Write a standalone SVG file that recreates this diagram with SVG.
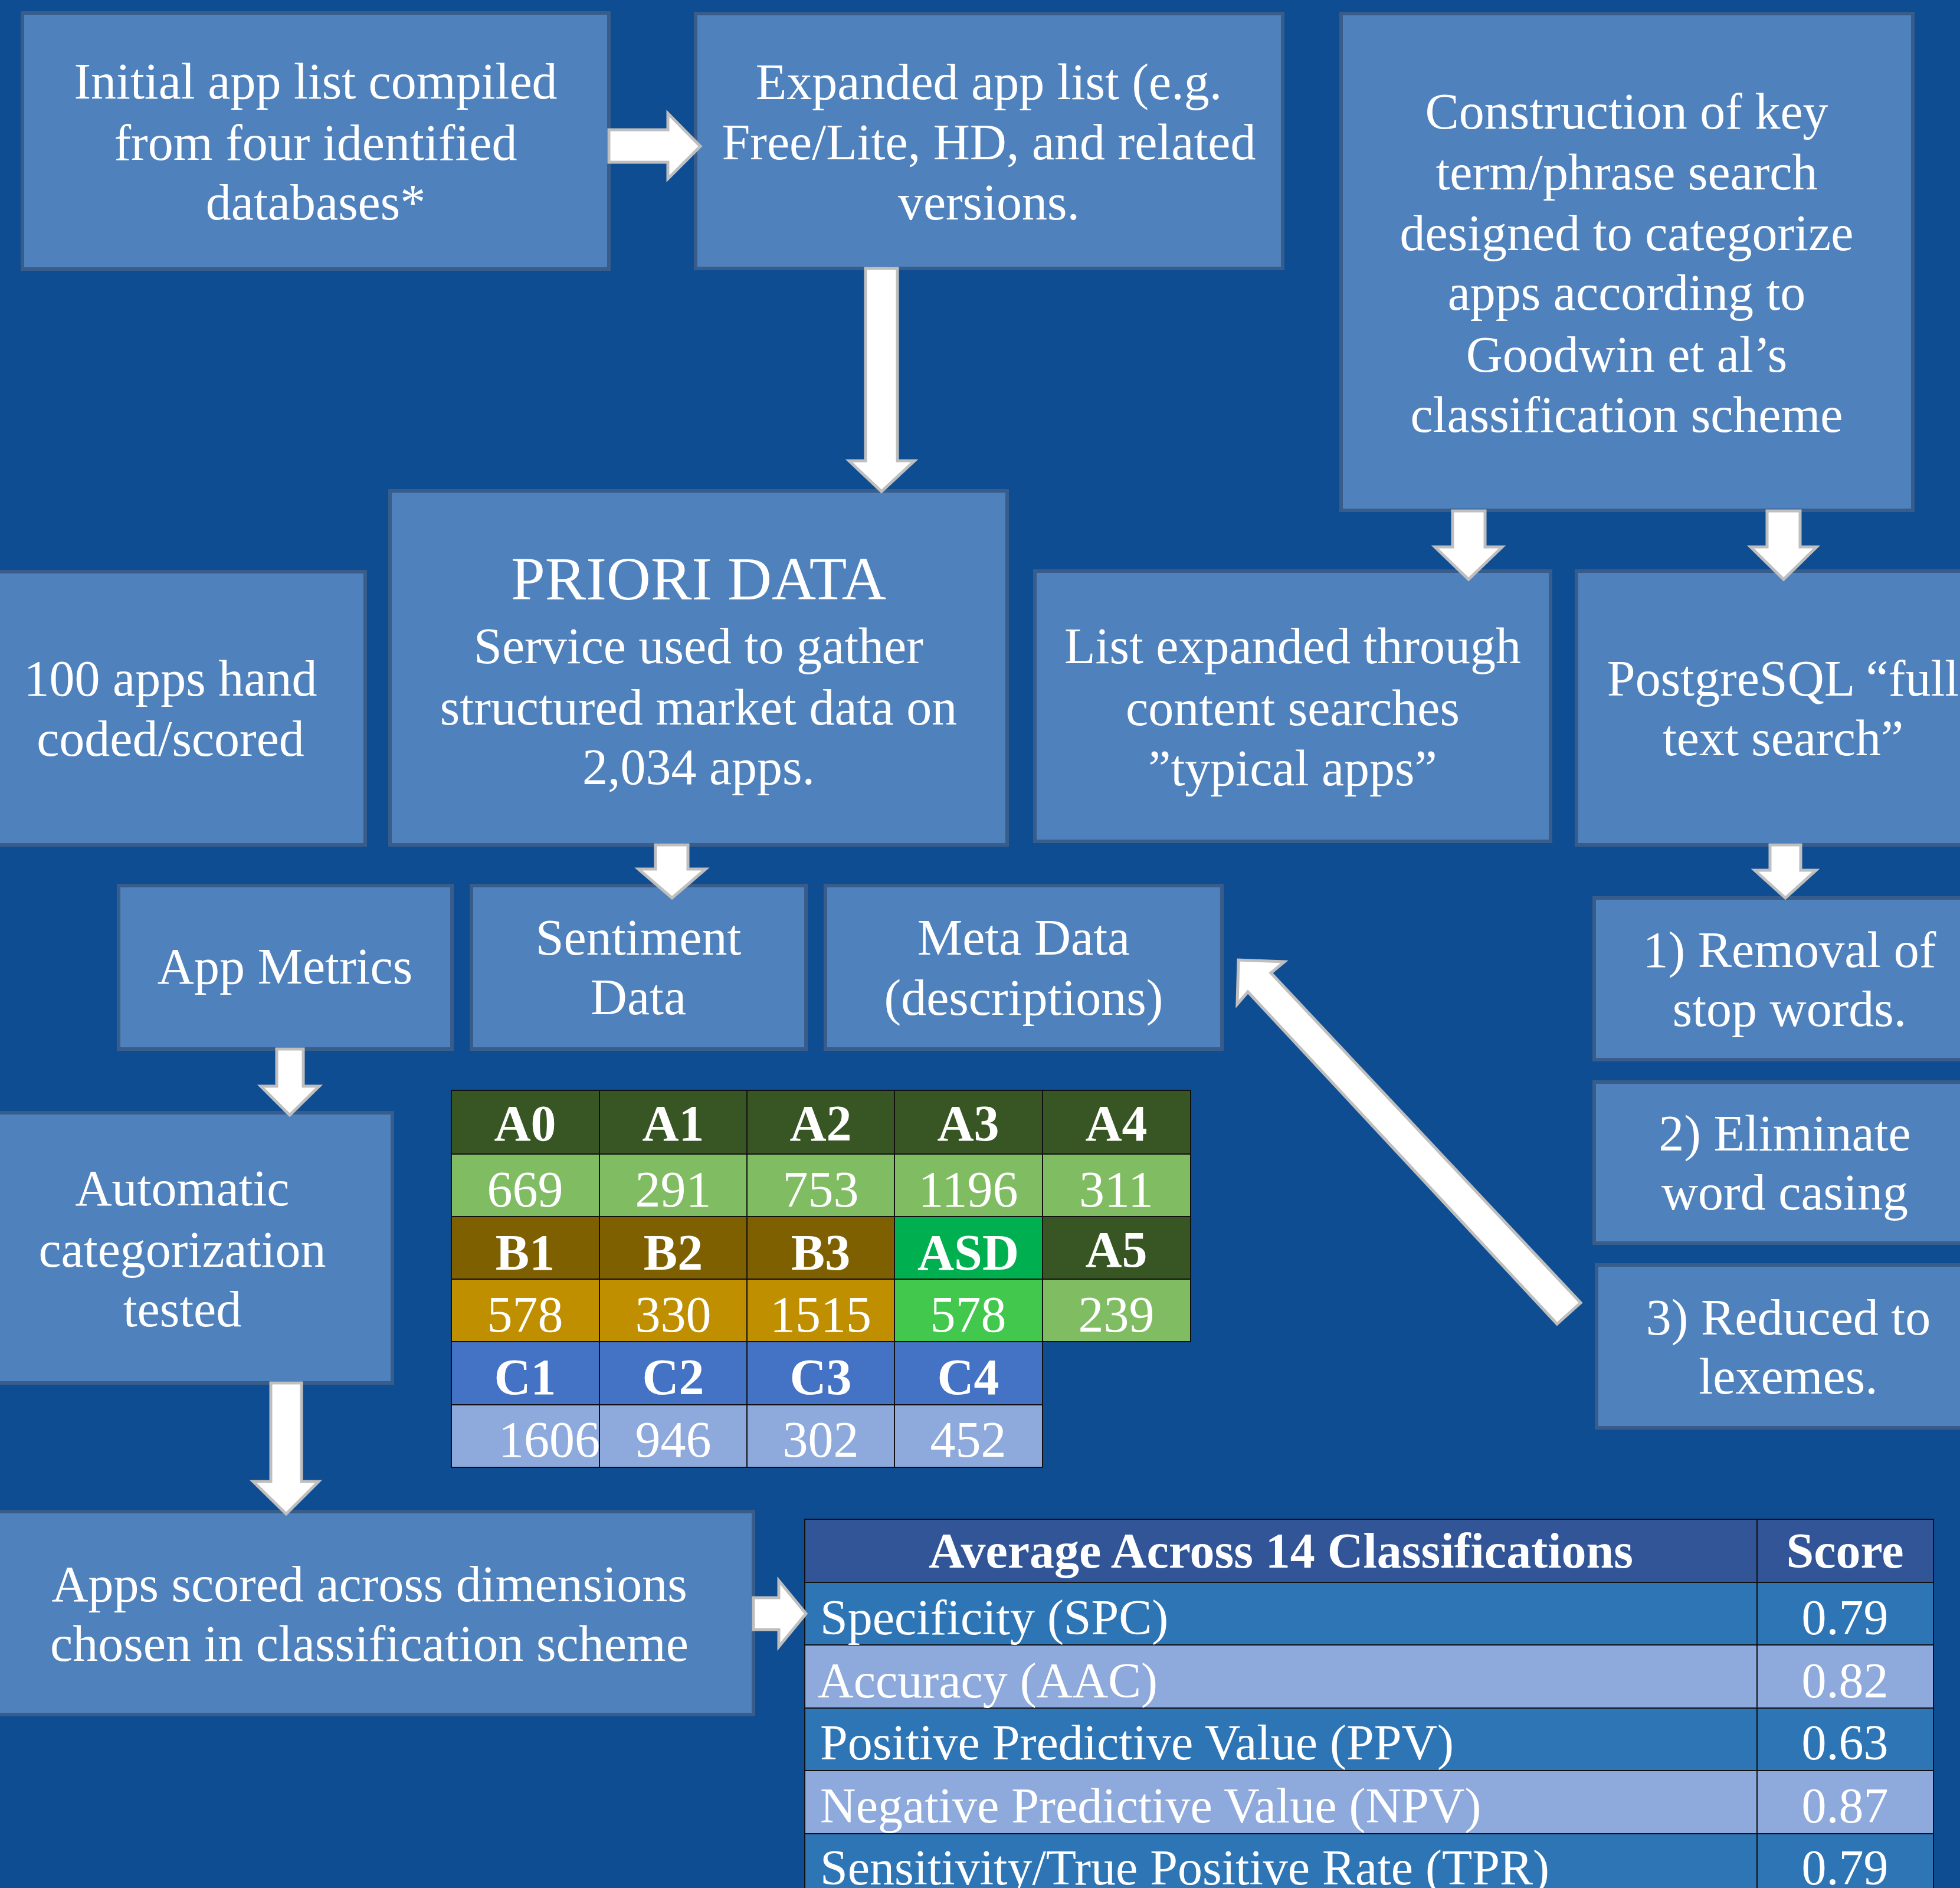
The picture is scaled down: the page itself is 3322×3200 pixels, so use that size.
<svg xmlns="http://www.w3.org/2000/svg" width="3322" height="3200" viewBox="0 0 3322 3200">
<style>
.box{fill:#4F81BD;stroke:#385D8A;stroke-width:6}
.t{font-family:"Liberation Serif","Times New Roman",serif;font-size:86px;fill:#FFFFFF;text-anchor:middle}
.tl{font-family:"Liberation Serif","Times New Roman",serif;font-size:84px;fill:#FFFFFF;text-anchor:start}
.tb{font-family:"Liberation Serif","Times New Roman",serif;font-size:86px;fill:#FFFFFF;text-anchor:middle;font-weight:bold}
.arrow{fill:#FFFFFF;stroke:#BFBFBF;stroke-width:5;stroke-linejoin:miter}
.cell{stroke:#111111;stroke-width:2}
</style>
<rect x="0" y="0" width="3322" height="3200" fill="#0F4D92"/>

<g id="node-initial">
<rect class="box" x="38" y="22" width="994" height="434"/>
<text class="t" x="535" y="167">Initial app list compiled</text>
<text class="t" x="535" y="271">from four identified</text>
<text class="t" x="535" y="372">databases*</text>
</g>

<g id="node-expanded">
<rect class="box" x="1179" y="23" width="995" height="432"/>
<text class="t" x="1676" y="168">Expanded app list (e.g.</text>
<text class="t" x="1676" y="270">Free/Lite, HD, and related</text>
<text class="t" x="1676" y="372">versions.</text>
</g>

<g id="node-construction">
<rect class="box" x="2273" y="23" width="969" height="842"/>
<text class="t" x="2757" y="218">Construction of key</text>
<text class="t" x="2757" y="321">term/phrase search</text>
<text class="t" x="2757" y="424">designed to categorize</text>
<text class="t" x="2757" y="525">apps according to</text>
<text class="t" x="2757" y="630">Goodwin et al’s</text>
<text class="t" x="2757" y="732">classification scheme</text>
</g>

<g id="node-handcoded">
<rect class="box" x="-40" y="969" width="659" height="463"/>
<text class="t" x="289" y="1179">100 apps hand</text>
<text class="t" x="289" y="1281">coded/scored</text>
</g>

<g id="node-priori">
<rect class="box" x="661" y="832" width="1046" height="600"/>
<text class="t" x="1184" y="1016" style="font-size:104px">PRIORI DATA</text>
<text class="t" x="1184" y="1124">Service used to gather</text>
<text class="t" x="1184" y="1228">structured market data on</text>
<text class="t" x="1184" y="1329">2,034 apps.</text>
</g>

<g id="node-listexpanded">
<rect class="box" x="1754" y="968" width="874" height="458"/>
<text class="t" x="2191" y="1124">List expanded through</text>
<text class="t" x="2191" y="1229">content searches</text>
<text class="t" x="2191" y="1331">”typical apps”</text>
</g>

<g id="node-postgres">
<rect class="box" x="2672" y="968" width="700" height="464"/>
<text class="t" x="3022" y="1179">PostgreSQL “full</text>
<text class="t" x="3022" y="1280">text search”</text>
</g>

<g id="node-appmetrics">
<rect class="box" x="201" y="1501" width="565" height="277"/>
<text class="t" x="483" y="1667">App Metrics</text>
</g>

<g id="node-sentiment">
<rect class="box" x="799" y="1501" width="567" height="277"/>
<text class="t" x="1082" y="1618">Sentiment</text>
<text class="t" x="1082" y="1719">Data</text>
</g>

<g id="node-meta">
<rect class="box" x="1399" y="1501" width="672" height="277"/>
<text class="t" x="1735" y="1618">Meta Data</text>
<text class="t" x="1735" y="1720">(descriptions)</text>
</g>

<g id="node-step1">
<rect class="box" x="2702" y="1522" width="660" height="274"/>
<text class="t" x="3033" y="1639">1) Removal of</text>
<text class="t" x="3033" y="1739">stop words.</text>
</g>

<g id="node-step2">
<rect class="box" x="2702" y="1834" width="660" height="273"/>
<text class="t" x="3025" y="1950">2) Eliminate</text>
<text class="t" x="3025" y="2050">word casing</text>
</g>

<g id="node-step3">
<rect class="box" x="2706" y="2144" width="660" height="276"/>
<text class="t" x="3031" y="2262">3) Reduced to</text>
<text class="t" x="3031" y="2362">lexemes.</text>
</g>

<g id="node-automatic">
<rect class="box" x="-47" y="1886" width="712" height="458"/>
<text class="t" x="309" y="2043">Automatic</text>
<text class="t" x="309" y="2147">categorization</text>
<text class="t" x="309" y="2248">tested</text>
</g>

<g id="node-scored">
<rect class="box" x="-25" y="2562" width="1302" height="344"/>
<text class="t" x="626" y="2714">Apps scored across dimensions</text>
<text class="t" x="626" y="2815">chosen in classification scheme</text>
</g>

<g id="category-table">
<rect class="cell" x="765" y="1848" width="251" height="108" fill="#375623"/>
<rect class="cell" x="1016" y="1848" width="250" height="108" fill="#375623"/>
<rect class="cell" x="1266" y="1848" width="250" height="108" fill="#375623"/>
<rect class="cell" x="1516" y="1848" width="251" height="108" fill="#375623"/>
<rect class="cell" x="1767" y="1848" width="251" height="108" fill="#375623"/>
<rect class="cell" x="765" y="1956" width="251" height="106" fill="#80BC62"/>
<rect class="cell" x="1016" y="1956" width="250" height="106" fill="#80BC62"/>
<rect class="cell" x="1266" y="1956" width="250" height="106" fill="#80BC62"/>
<rect class="cell" x="1516" y="1956" width="251" height="106" fill="#80BC62"/>
<rect class="cell" x="1767" y="1956" width="251" height="106" fill="#80BC62"/>
<rect class="cell" x="765" y="2062" width="251" height="106" fill="#7F6000"/>
<rect class="cell" x="1016" y="2062" width="250" height="106" fill="#7F6000"/>
<rect class="cell" x="1266" y="2062" width="250" height="106" fill="#7F6000"/>
<rect class="cell" x="1516" y="2062" width="251" height="106" fill="#00B050"/>
<rect class="cell" x="1767" y="2062" width="251" height="106" fill="#375623"/>
<rect class="cell" x="765" y="2168" width="251" height="106" fill="#BF8F00"/>
<rect class="cell" x="1016" y="2168" width="250" height="106" fill="#BF8F00"/>
<rect class="cell" x="1266" y="2168" width="250" height="106" fill="#BF8F00"/>
<rect class="cell" x="1516" y="2168" width="251" height="106" fill="#42C84C"/>
<rect class="cell" x="1767" y="2168" width="251" height="106" fill="#80BC62"/>
<rect class="cell" x="765" y="2274" width="251" height="107" fill="#4472C4"/>
<rect class="cell" x="1016" y="2274" width="250" height="107" fill="#4472C4"/>
<rect class="cell" x="1266" y="2274" width="250" height="107" fill="#4472C4"/>
<rect class="cell" x="1516" y="2274" width="251" height="107" fill="#4472C4"/>
<rect class="cell" x="765" y="2381" width="251" height="106" fill="#8EA9DB"/>
<rect class="cell" x="1016" y="2381" width="250" height="106" fill="#8EA9DB"/>
<rect class="cell" x="1266" y="2381" width="250" height="106" fill="#8EA9DB"/>
<rect class="cell" x="1516" y="2381" width="251" height="106" fill="#8EA9DB"/>
<text class="tb" x="890" y="1933">A0</text>
<text class="tb" x="1141" y="1933">A1</text>
<text class="tb" x="1391" y="1933">A2</text>
<text class="tb" x="1641" y="1933">A3</text>
<text class="tb" x="1892" y="1933">A4</text>
<text class="t" x="890" y="2045">669</text>
<text class="t" x="1141" y="2045">291</text>
<text class="t" x="1391" y="2045">753</text>
<text class="t" x="1641" y="2045">1196</text>
<text class="t" x="1892" y="2045">311</text>
<text class="tb" x="890" y="2152">B1</text>
<text class="tb" x="1141" y="2152">B2</text>
<text class="tb" x="1391" y="2152">B3</text>
<text class="tb" x="1641" y="2152">ASD</text>
<text class="tb" x="1892" y="2147">A5</text>
<text class="t" x="890" y="2257">578</text>
<text class="t" x="1141" y="2257">330</text>
<text class="t" x="1391" y="2257">1515</text>
<text class="t" x="1641" y="2257">578</text>
<text class="t" x="1892" y="2257">239</text>
<text class="tb" x="890" y="2363">C1</text>
<text class="tb" x="1141" y="2363">C2</text>
<text class="tb" x="1391" y="2363">C3</text>
<text class="tb" x="1641" y="2363">C4</text>
<text class="t" x="931" y="2469">1606</text>
<text class="t" x="1141" y="2469">946</text>
<text class="t" x="1391" y="2469">302</text>
<text class="t" x="1641" y="2469">452</text>
</g>

<g id="score-table">
<rect class="cell" x="1364" y="2575" width="1614" height="107" fill="#325597"/>
<rect class="cell" x="2978" y="2575" width="299" height="107" fill="#325597"/>
<rect class="cell" x="1364" y="2682" width="1614" height="106" fill="#2E75B6"/>
<rect class="cell" x="2978" y="2682" width="299" height="106" fill="#2E75B6"/>
<rect class="cell" x="1364" y="2788" width="1614" height="107" fill="#8EA9DB"/>
<rect class="cell" x="2978" y="2788" width="299" height="107" fill="#8EA9DB"/>
<rect class="cell" x="1364" y="2895" width="1614" height="106" fill="#2E75B6"/>
<rect class="cell" x="2978" y="2895" width="299" height="106" fill="#2E75B6"/>
<rect class="cell" x="1364" y="3001" width="1614" height="107" fill="#8EA9DB"/>
<rect class="cell" x="2978" y="3001" width="299" height="107" fill="#8EA9DB"/>
<rect class="cell" x="1364" y="3108" width="1614" height="106" fill="#2E75B6"/>
<rect class="cell" x="2978" y="3108" width="299" height="106" fill="#2E75B6"/>
<text class="tb" x="2171" y="2657" style="font-size:84px">Average Across 14 Classifications</text>
<text class="tb" x="3127" y="2657" style="font-size:84px">Score</text>
<text class="tl" x="1390" y="2770">Specificity (SPC)</text>
<text class="tl" x="1386" y="2877">Accuracy (AAC)</text>
<text class="tl" x="1390" y="2982">Positive Predictive Value (PPV)</text>
<text class="tl" x="1390" y="3089">Negative Predictive Value (NPV)</text>
<text class="tl" x="1390" y="3194">Sensitivity/True Positive Rate (TPR)</text>
<text class="t" x="3127" y="2770" style="font-size:84px">0.79</text>
<text class="t" x="3127" y="2877" style="font-size:84px">0.82</text>
<text class="t" x="3127" y="2982" style="font-size:84px">0.63</text>
<text class="t" x="3127" y="3089" style="font-size:84px">0.87</text>
<text class="t" x="3127" y="3194" style="font-size:84px">0.79</text>
</g>

<g id="connectors">
<polygon class="arrow" points="1032,220 1132,220 1132,192 1187,248 1132,303 1132,275 1032,275"/>
<polygon class="arrow" points="1467,455 1521,455 1521,781 1550,781 1494,833 1439,781 1467,781"/>
<polygon class="arrow" points="1111,1432 1166,1432 1166,1473 1196,1473 1139,1522 1082,1473 1111,1473"/>
<polygon class="arrow" points="2462,866 2517,866 2517,927 2546,927 2489,982 2432,927 2462,927"/>
<polygon class="arrow" points="2995,866 3051,866 3051,927 3079,927 3023,982 2967,927 2995,927"/>
<polygon class="arrow" points="3000,1432 3052,1432 3052,1475 3078,1475 3026,1522 2974,1475 3000,1475"/>
<polygon class="arrow" points="469,1778 514,1778 514,1841 541,1841 491,1890 442,1841 469,1841"/>
<polygon class="arrow" points="459,2344 511,2344 511,2511 540,2511 485,2566 429,2511 459,2511"/>
<polygon class="arrow" points="1277,2708 1320,2708 1320,2679 1366,2735 1320,2791 1320,2762 1277,2762"/>
<polygon class="arrow" points="2679,2208 2154,1649 2177,1630 2099,1627 2097,1702 2115,1681 2639,2244"/>
</g>
</svg>
